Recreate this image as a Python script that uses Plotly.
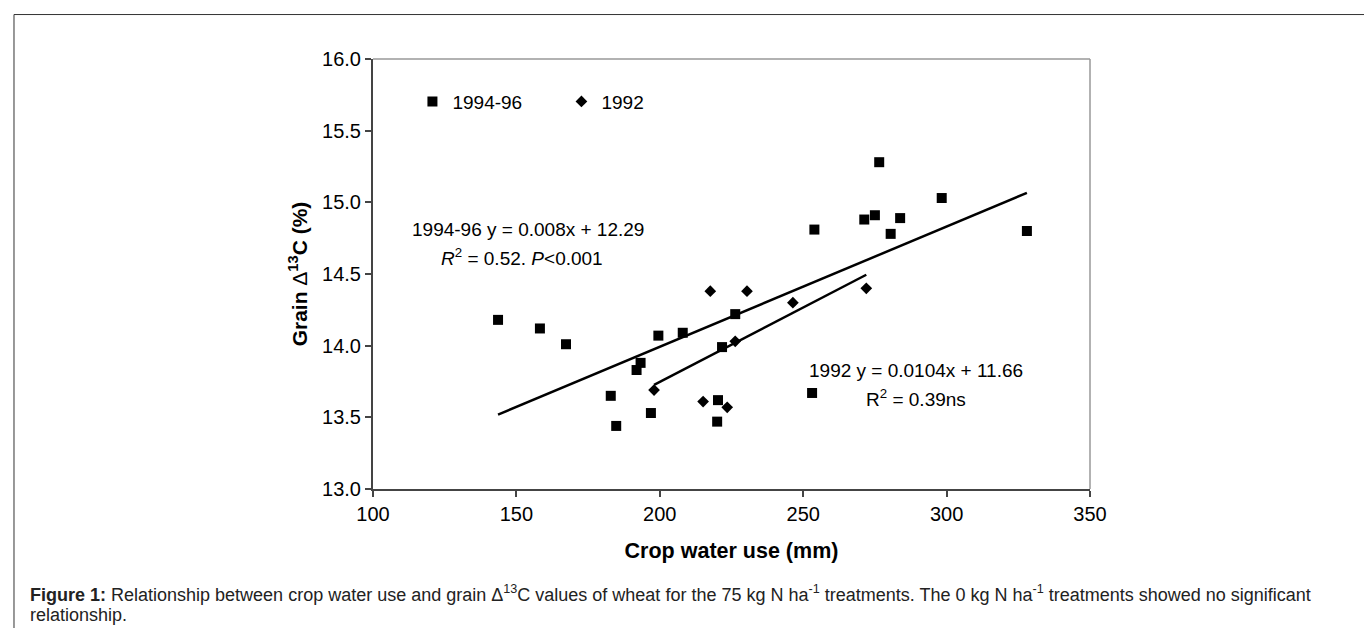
import numpy as np
import plotly.graph_objects as go

# ---- data ----
x_9496 = [143.6, 158.2, 167.3, 182.9, 184.8, 191.9, 193.3, 196.9, 199.5, 208.0, 220.0, 220.3,
          221.7, 226.3, 253.1, 253.9, 271.3, 275.0, 276.5, 280.5, 283.8, 298.3, 328.0]
y_9496 = [14.18, 14.12, 14.01, 13.65, 13.44, 13.83, 13.88, 13.53, 14.07, 14.09, 13.47, 13.62,
          13.99, 14.22, 13.67, 14.81, 14.88, 14.91, 15.28, 14.78, 14.89, 15.03, 14.80]

x_1992 = [198.0, 215.1, 217.6, 223.5, 226.3, 230.4, 246.4, 272.0]
y_1992 = [13.69, 13.61, 14.38, 13.57, 14.03, 14.38, 14.30, 14.40]

x_ticks = [100, 150, 200, 250, 300, 350]
y_ticks = [13.0, 13.5, 14.0, 14.5, 15.0, 15.5, 16.0]

FONT = "Liberation Sans, Arial, sans-serif"

fig = go.Figure()
fig.add_trace(go.Scatter(x=x_9496, y=y_9496, mode="markers", name="1994-96",
                         marker=dict(symbol="square", size=10, color="black")))
fig.add_trace(go.Scatter(x=x_1992, y=y_1992, mode="markers", name="1992",
                         marker=dict(symbol="diamond", size=9, color="black")))

for xs, ys in ((x_9496, y_9496), (x_1992, y_1992)):
    coef = np.polyfit(xs, ys, 1)
    xe = np.array([min(xs), max(xs)])
    fig.add_trace(go.Scatter(x=xe, y=np.polyval(coef, xe), mode="lines",
                             line=dict(color="black", width=2.5),
                             showlegend=False, hoverinfo="skip"))

axis_common = dict(showline=True, linecolor="#444", linewidth=2, ticks="outside",
                   ticklen=6, tickcolor="#444", tickwidth=1.5, showgrid=False,
                   zeroline=False, tickfont=dict(size=20, color="black", family=FONT))

fig.update_xaxes(range=[100, 350], tickvals=x_ticks, **axis_common,
                 title=dict(text="<b>Crop water use (mm)</b>", standoff=19,
                            font=dict(size=21.5, color="black", family=FONT)))
fig.update_yaxes(range=[13, 16], tickvals=y_ticks, tickformat=".1f", **axis_common,
                 title=dict(text="<b>Grain </b>Δ<b><sup>13</sup>C (%)</b>", standoff=9,
                            font=dict(size=21, color="black", family=FONT)))

ann_font = dict(size=19, color="black", family=FONT)
cap_font = dict(size=18, color="#222", family=FONT)
annotations = [
    dict(x=154.0, y=14.808, xref="x", yref="y", text="1994-96 y = 0.008x + 12.29",
         showarrow=False, font=ann_font),
    dict(x=152.1, y=14.616, xref="x", yref="y",
         text="<i>R</i><sup>2</sup> = 0.52. <i>P</i>&lt;0.001", showarrow=False, font=ann_font),
    dict(x=289.3, y=13.828, xref="x", yref="y", text="1992 y = 0.0104x + 11.66",
         showarrow=False, font=ann_font),
    dict(x=289.3, y=13.635, xref="x", yref="y", text="R<sup>2</sup> = 0.39ns",
         showarrow=False, font=ann_font),
    dict(x=-0.481, y=-0.2440, xref="paper", yref="paper", xanchor="left", yanchor="middle",
         text="<b>Figure 1:</b> Relationship between crop water use and grain Δ<sup>13</sup>C values of wheat "
              "for the 75 kg N ha<sup>-1</sup> treatments. The 0 kg N ha<sup>-1</sup> treatments showed no significant",
         showarrow=False, font=cap_font),
    dict(x=-0.481, y=-0.2920, xref="paper", yref="paper", xanchor="left", yanchor="middle",
         text="relationship.", showarrow=False, font=cap_font),
]

shapes = [
    dict(type="line", xref="paper", yref="paper", x0=0, x1=1, y0=1, y1=1,
         line=dict(color="#999", width=1.5)),
    dict(type="line", xref="paper", yref="paper", x0=1, x1=1, y0=0, y1=1,
         line=dict(color="#999", width=1.5)),
    dict(type="rect", xref="paper", yref="paper", x0=-0.5007, x1=1.3975, y0=-0.3346, y1=1.1034,
         line=dict(color="#333", width=1)),
]

fig.update_layout(
    width=1372, height=628, autosize=False,
    margin=dict(l=365, r=290, t=51, b=147),
    paper_bgcolor="white", plot_bgcolor="white",
    font=dict(family=FONT, color="black"),
    showlegend=True,
    legend=dict(orientation="h", x=0.055, xanchor="left", y=0.901, yanchor="middle",
                font=dict(size=19, color="black", family=FONT), bgcolor="rgba(0,0,0,0)",
                entrywidth=104, itemwidth=30),
    annotations=annotations, shapes=shapes,
)

fig.write_html("out.html")
